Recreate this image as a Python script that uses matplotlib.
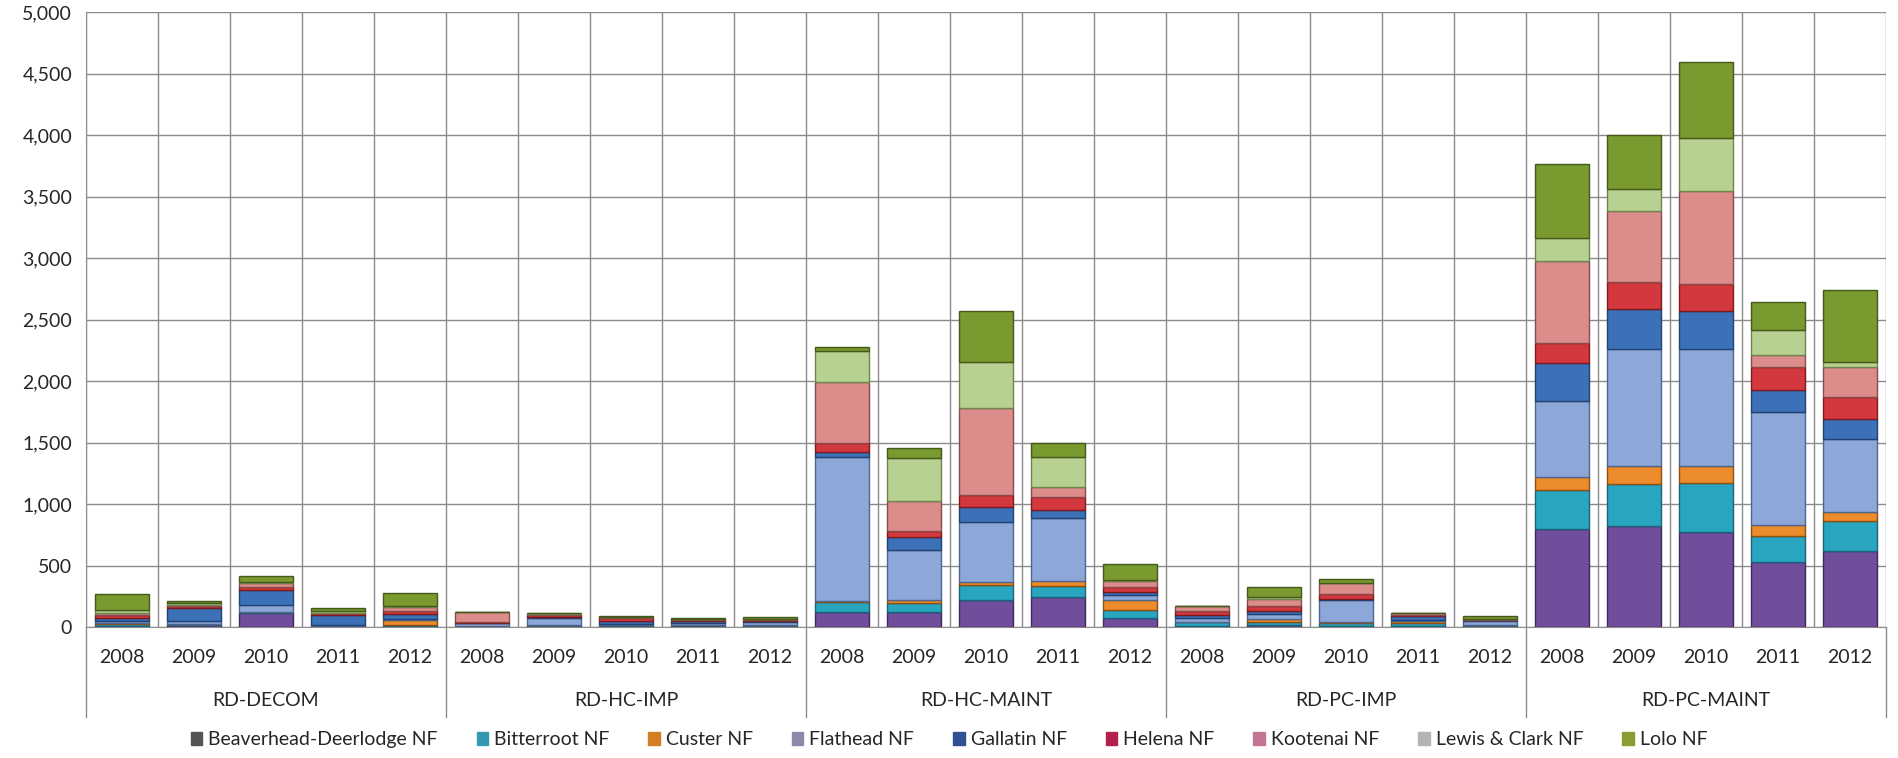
import matplotlib
matplotlib.use("Agg")
import matplotlib.pyplot as plt
from matplotlib.patches import Patch
from matplotlib.lines import Line2D
from matplotlib.ticker import FuncFormatter, MultipleLocator
import numpy as np

plt.rcParams['font.family'] = ['Lato', 'DejaVu Sans']

groups = ["RD-DECOM", "RD-HC-IMP", "RD-HC-MAINT", "RD-PC-IMP", "RD-PC-MAINT"]
years = ["2008", "2009", "2010", "2011", "2012"]

forests = ["Beaverhead-Deerlodge NF", "Bitterroot NF", "Custer NF", "Flathead NF",
           "Gallatin NF", "Helena NF", "Kootenai NF", "Lewis & Clark NF", "Lolo NF"]

beaverhead = [10, 15, 110, 5, 5, 3, 10, 5, 5, 5, 122, 122, 220, 244, 75,
              5, 15, 10, 10, 5, 797, 821, 772, 528, 618]
bitterroot = [15, 10, 10, 5, 15, 3, 10, 10, 10, 10, 81, 73, 121, 89, 60,
              35, 27, 20, 25, 15, 317, 342, 399, 212, 244]
custer = [5, 0, 5, 0, 35, 0, 0, 0, 5, 0, 7, 25, 25, 41, 85,
          0, 20, 10, 10, 0, 106, 146, 138, 89, 73]
flathead = [20, 20, 50, 10, 10, 25, 50, 10, 10, 25, 1172, 406, 488, 512, 40,
            30, 45, 180, 15, 25, 617, 951, 951, 919, 593]
gallatin = [25, 110, 125, 80, 40, 5, 15, 25, 20, 10, 41, 106, 122, 65, 25,
            28, 27, 10, 30, 15, 309, 325, 309, 179, 163]
helena = [25, 15, 25, 12, 27, 8, 10, 25, 5, 10, 73, 48, 97, 106, 40,
          35, 35, 35, 10, 0, 163, 220, 220, 187, 179]
kootenai = [15, 10, 30, 5, 27, 75, 12, 10, 10, 5, 496, 244, 707, 81, 49,
            35, 55, 95, 10, 2, 667, 577, 756, 97, 244]
lewis_clark = [20, 15, 10, 10, 10, 3, 5, 0, 0, 4, 255, 350, 374, 244, 10,
               3, 19, 0, 0, 2, 187, 179, 430, 204, 40]
lolo = [130, 20, 50, 30, 110, 0, 5, 4, 5, 10, 33, 81, 413, 116, 130,
        0, 80, 30, 6, 25, 600, 439, 622, 228, 589]

series = [beaverhead, bitterroot, custer, flathead, gallatin,
          helena, kootenai, lewis_clark, lolo]

bar_colors = ["#6f4e9b", "#2aa5c0", "#ec8b2c", "#8da8d8", "#3c71b8",
              "#d2383e", "#dc8c8b", "#b7d191", "#789a2f"]
edge_colors = ["#3f2a60", "#17647a", "#8f4f10", "#4f6690", "#1f4273",
               "#7e1a1e", "#8a4a4a", "#6f8550", "#45591a"]
legend_colors = ["#555555", "#3399b0", "#d47d22", "#8b88aa", "#2f5193",
                 "#b3224c", "#c27693", "#b4b4b4", "#8c9c32"]

text_color = "#262626"
grid_color = "#8c8c8c"

fig = plt.figure(figsize=(18.98, 7.58), dpi=100)
ax = fig.add_axes([0.0453, 0.1728, 0.9484, 0.8112])

n = len(groups) * len(years)
x = np.arange(n)
bottom = np.zeros(n)
for vals, fc, ec in zip(series, bar_colors, edge_colors):
    v = np.array(vals, dtype=float)
    ax.bar(x, v, width=0.74, bottom=bottom, color=fc, edgecolor=ec,
           linewidth=1.0, zorder=3)
    bottom += v

ax.set_xlim(-0.5, n - 0.5)
ax.set_ylim(0, 5000)
ax.yaxis.set_major_locator(MultipleLocator(500))
ax.yaxis.set_major_formatter(FuncFormatter(lambda v, p: f"{int(v):,}"))
ax.grid(axis='y', color=grid_color, linewidth=1.0, zorder=0)

# vertical separators between every bar slot
for b in np.arange(-0.5, n, 1.0):
    ax.axvline(b, color=grid_color, linewidth=1.0, zorder=0)

for s in ["top", "right"]:
    ax.spines[s].set_visible(False)
ax.spines["left"].set_color(grid_color)
ax.spines["bottom"].set_color(grid_color)

ax.set_xticks(x)
ax.set_xticklabels(years * len(groups))
ax.tick_params(axis='x', length=0, pad=16, labelsize=14, colors=text_color)
ax.tick_params(axis='y', length=0, pad=10, labelsize=14, colors=text_color)

# category labels and separators under the year row
trans = ax.get_xaxis_transform()
for gi, g in enumerate(groups):
    ax.text(gi * 5 + 2, -0.119, g, transform=trans, ha='center', va='center',
            fontsize=14, color=text_color)
for gi in range(len(groups) + 1):
    xb = gi * 5 - 0.5
    ax.add_line(Line2D([xb, xb], [0, -0.147], transform=trans, color=grid_color,
                       linewidth=1.0, clip_on=False))

handles = [Patch(facecolor=c, edgecolor=c) for c in legend_colors]
fig.legend(handles, forests, loc='center', bbox_to_anchor=(0.5, 0.024),
           ncol=9, frameon=False, fontsize=14, handlelength=0.6,
           handleheight=0.6, handletextpad=0.3, columnspacing=2.0,
           labelcolor=text_color)

fig.savefig("out.png", dpi=100)
